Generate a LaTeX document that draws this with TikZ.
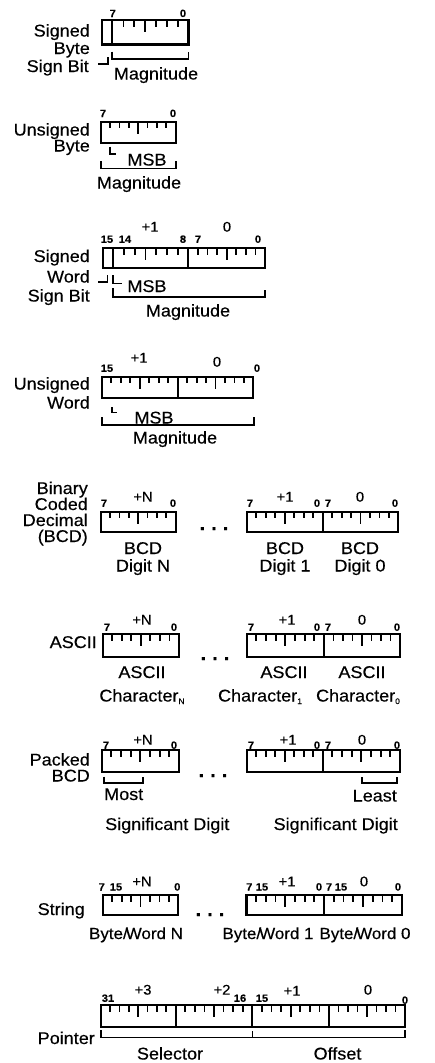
\documentclass[tikz,border=0pt]{standalone}
\usepackage{fontspec}
\setmainfont[FakeStretch=1.06,FakeBold=0.35]{Liberation Sans}

% ticks of one byte (8 bits) between x=#1 and x=#2, hanging from y=#3
\newcommand\bytescale[3]{%
  \foreach \k in {1,...,7}{%
    \pgfmathsetmacro\tx{#1+(#2-#1)*\k/8}%
    \pgfmathsetmacro\tl{\k==4 ? 12 : 6.5}%
    \draw[tick] (\tx,#3) -- (\tx,#3+\tl);%
  }}
% a subscript set a little below the baseline
\newcommand\lowsub[1]{\raisebox{-2.5pt}{\fontsize{8}{8}\selectfont #1}}
% "Byte/Word" with the slash tucked against the W
\newcommand\bw{Byte/\kern-2pt Word}

\begin{document}
\begin{tikzpicture}[x=1pt,y=-1pt,
  lbl/.style={font=\fontsize{17}{17}\selectfont, inner sep=0pt, anchor=base},
  rlbl/.style={lbl, anchor=base east},
  bwlbl/.style={font=\fontsize{16}{16}\selectfont, inner sep=0pt, anchor=base},
  bitno/.style={font=\fontsize{10.5}{11}\selectfont\bfseries, inner sep=0pt, anchor=base, yshift=-0.5pt},
  byteno/.style={font=\fontsize{14}{14}\selectfont, inner sep=0pt, anchor=base},
  dots/.style={font=\fontsize{19}{19}\selectfont\bfseries, inner sep=0pt, anchor=base},
  field/.style={line width=2.2pt},
  tick/.style={line width=1.8pt},
  brk/.style={line width=1.6pt},
]
\useasboundingbox (0,0) rectangle (434,1063);

% ---------------- Signed Byte ----------------
\node[rlbl] (sb1) at (90,36.5) {Signed};
\node[rlbl] (sb2) at (90,54) {Byte};
\node[rlbl] (sb3) at (89,72) {Sign Bit};
\node[bitno] (sbh) at (112.7,16.5) {7};
\node[bitno] (sbl) at (183,16.5) {0};
\bytescale{101.7}{188.5}{20}
\draw[field] (101.7,20) rectangle (188.5,44.5);
\draw[field] (111.7,20) -- (111.7,44.5);
\draw[brk] (98,64) -- (108,64) -- (108,56.5);
\draw[brk] (111.7,51.5) -- (111.7,59) -- (188.5,59) -- (188.5,51.5);
\node[lbl] (sbm) at (156,79.5) {Magnitude};

% ---------------- Unsigned Byte ----------------
\node[rlbl] (ub1) at (90,135.5) {Unsigned};
\node[rlbl] (ub2) at (90,151.5) {Byte};
\node[bitno] (ubh) at (103,116.5) {7};
\node[bitno] (ubl) at (173,116.5) {0};
\bytescale{100.7}{175.7}{121.7}
\draw[field] (100.7,121.7) rectangle (175.7,143.3);
\draw[brk] (110,146.5) -- (110,154) -- (116,154);
\node[lbl] (ubmsb) at (147,165.5) {MSB};
\draw[brk] (100.7,161) -- (100.7,168.3) -- (175.7,168.3) -- (175.7,161);
\node[lbl] (ubm) at (139,188.5) {Magnitude};

% ---------------- Signed Word ----------------
\node[byteno] (swb1) at (150,231.6) {+1};
\node[byteno] (swb0) at (227,231.6) {0};
\node[bitno] (sw15) at (107,242.3) {15};
\node[bitno] (sw14) at (125,242.3) {14};
\node[bitno] (sw8) at (183,242.3) {8};
\node[bitno] (sw7) at (198,242.3) {7};
\node[bitno] (sw0) at (258,242.3) {0};
\bytescale{102.7}{188.3}{248}
\bytescale{188.3}{265}{248}
\draw[field] (102.7,248) rectangle (265,268.3);
\draw[field] (112.7,248) -- (112.7,268.3);
\draw[field] (188.3,248) -- (188.3,268.3);
\node[rlbl] (sw1) at (90,262) {Signed};
\node[rlbl] (sw2) at (90,282.5) {Word};
\node[rlbl] (sw3) at (90,301.5) {Sign Bit};
\draw[brk] (98.3,281.7) -- (107.5,281.7) -- (107.5,275);
\draw[brk] (112.7,275) -- (112.7,283.3) -- (121.7,283.3);
\node[lbl] (swmsb) at (147,292) {MSB};
\draw[brk] (112.7,288) -- (112.7,296.7) -- (265,296.7) -- (265,290);
\node[lbl] (swm) at (188,316.5) {Magnitude};

% ---------------- Unsigned Word ----------------
\node[bitno] (uw15) at (107,371.3) {15};
\node[byteno] (uwb1) at (139,362.6) {+1};
\node[byteno] (uwb0) at (217,366.6) {0};
\node[bitno] (uw0) at (257,371.3) {0};
\bytescale{101.7}{177.7}{376.7}
\bytescale{177.7}{253.3}{376.7}
\draw[field] (101.7,376.7) rectangle (253.3,398.3);
\draw[field] (177.7,376.7) -- (177.7,398.3);
\node[rlbl] (uw1) at (90,389.5) {Unsigned};
\node[rlbl] (uw2) at (90,408.5) {Word};
\draw[brk] (111.7,407) -- (111.7,412.3) -- (117.3,412.3);
\node[lbl] (uwmsb) at (154,423.5) {MSB};
\draw[brk] (101.7,417) -- (101.7,425) -- (254,425) -- (254,417);
\node[lbl] (uwm) at (175,443.5) {Magnitude};

% ---------------- Binary Coded Decimal ----------------
\node[rlbl] (bcd1) at (88,494) {Binary};
\node[rlbl] (bcd2) at (88,510) {Coded};
\node[rlbl] (bcd3) at (88,526) {Decimal};
\node[rlbl] (bcd4) at (88,542) {(BCD)};
\node[bitno] (bcdNh) at (104,506.3) {7};
\node[byteno] (bcdN) at (143,501.6) {+N};
\node[bitno] (bcdNl) at (173,506.3) {0};
\bytescale{100.7}{175.7}{511.7}
\draw[field] (100.7,511.7) rectangle (175.7,531.7);
\node[dots] (bcddots) at (214,530) {.\hspace{6pt}.\hspace{6pt}.};
\node[bitno] (bcd1h) at (250,506.3) {7};
\node[byteno] (bcd1n) at (285,501.6) {+1};
\node[bitno] (bcd1l) at (317,506.3) {0};
\node[bitno] (bcd0h) at (328,506.3) {7};
\node[byteno] (bcd0n) at (360,501.6) {0};
\node[bitno] (bcd0l) at (395,506.3) {0};
\bytescale{246.7}{322.7}{511.7}
\bytescale{322.7}{398.3}{511.7}
\draw[field] (246.7,511.7) rectangle (398.3,531.7);
\draw[field] (322.7,511.7) -- (322.7,531.7);
\node[lbl] (bcdNa) at (143,554) {BCD};
\node[lbl] (bcdNb) at (143,571.5) {Digit N};
\node[lbl] (bcd1a) at (285,554) {BCD};
\node[lbl] (bcd1b) at (285,571.5) {Digit 1};
\node[lbl] (bcd0a) at (360,554) {BCD};
\node[lbl] (bcd0b) at (360,571.5) {Digit 0};

% ---------------- ASCII ----------------
\node[rlbl] (as) at (97,648) {ASCII};
\node[bitno] (asNh) at (107,630.3) {7};
\node[byteno] (asN) at (142,624.6) {+N};
\node[bitno] (asNl) at (174,630.3) {0};
\bytescale{102.7}{179}{634}
\draw[field] (102.7,634) rectangle (179,657);
\node[dots] (asdots) at (215,660) {.\hspace{6pt}.\hspace{6pt}.};
\node[bitno] (as1h) at (251,630.3) {7};
\node[byteno] (as1n) at (287,624.6) {+1};
\node[bitno] (as1l) at (317,630.3) {0};
\node[bitno] (as0h) at (328,630.3) {7};
\node[byteno] (as0n) at (362,624.6) {0};
\node[bitno] (as0l) at (397,630.3) {0};
\bytescale{246.7}{324}{634}
\bytescale{324}{400}{634}
\draw[field] (246.7,634) rectangle (400,657);
\draw[field] (324,634) -- (324,657);
\node[lbl] (asNa) at (142,678) {ASCII};
\node[lbl] (asNb) at (142,701.5) {Character\lowsub{N}};
\node[lbl] (as1a) at (284,678) {ASCII};
\node[lbl] (as1b) at (260,701.5) {Character\lowsub{1}};
\node[lbl] (as0a) at (362,678) {ASCII};
\node[lbl] (as0b) at (358,701.5) {Character\lowsub{0}};

% ---------------- Packed BCD ----------------
\node[rlbl] (pb1) at (90,765.5) {Packed};
\node[rlbl] (pb2) at (90,781.5) {BCD};
\node[bitno] (pbNh) at (106,748.3) {7};
\node[byteno] (pbN) at (143,744.6) {+N};
\node[bitno] (pbNl) at (174,748.3) {0};
\bytescale{101.7}{179}{750}
\draw[field] (101.7,750) rectangle (179,771.7);
\node[dots] (pbdots) at (213,777) {.\hspace{6pt}.\hspace{6pt}.};
\node[bitno] (pb1h) at (251,748.3) {7};
\node[byteno] (pb1n) at (288,744.6) {+1};
\node[bitno] (pb1l) at (317,748.3) {0};
\node[bitno] (pb0h) at (328,748.3) {7};
\node[byteno] (pb0n) at (362,744.6) {0};
\node[bitno] (pb0l) at (397,748.3) {0};
\bytescale{246.7}{322.7}{750}
\bytescale{322.7}{400}{750}
\draw[field] (246.7,750) rectangle (400,771.7);
\draw[field] (322.7,750) -- (322.7,771.7);
\draw[brk] (104,776.7) -- (104,782.7) -- (142.7,782.7) -- (142.7,776.7);
\draw[brk] (361.7,777) -- (361.7,782.7) -- (396.7,782.7) -- (396.7,777);
\node[lbl, anchor=base west] (pbmost) at (104,800) {Most};
\node[lbl, anchor=base west] (pbmsd) at (105,830) {Significant Digit};
\node[lbl, anchor=base east] (pbleast) at (397,801.5) {Least};
\node[lbl, anchor=base east] (pblsd) at (398,830) {Significant Digit};

% ---------------- String ----------------
\node[rlbl] (st) at (85,915) {String};
\node[bitno] (stNh) at (101.7,890) {7};
\node[bitno] (stNw) at (116,890) {15};
\node[byteno] (stN) at (142,886.3) {+N};
\node[bitno] (stNl) at (177.3,890) {0};
\bytescale{102.7}{178.3}{895}
\draw[field] (102.7,895) rectangle (178.3,915);
\node[dots] (stdots) at (210,916) {.\hspace{6pt}.\hspace{6pt}.};
\node[bitno] (st1h) at (249.3,890) {7};
\node[bitno] (st1w) at (262,890) {15};
\node[byteno] (st1n) at (287,886.3) {+1};
\node[bitno] (st1l) at (319,890) {0};
\node[bitno] (st0h) at (329,890) {7};
\node[bitno] (st0w) at (341,890) {15};
\node[byteno] (st0n) at (364,886.3) {0};
\node[bitno] (st0l) at (398,890) {0};
\bytescale{246.5}{324}{895}
\bytescale{324}{402}{895}
\draw[field] (246.5,895) rectangle (402,915);
\draw[field] (324,895) -- (324,915);
\node[bwlbl] (stNb) at (136,939) {\bw{} N};
\node[bwlbl] (st1b) at (268,939) {\bw{} 1};
\node[bwlbl] (st0b) at (365,939) {\bw{} 0};

% ---------------- Pointer ----------------
\node[bitno] (pt31) at (108,1001.3) {31};
\node[byteno] (pt3) at (143,994.6) {+3};
\node[byteno] (pt2) at (222,994.6) {+2};
\node[bitno] (pt16) at (240,1001.3) {16};
\node[bitno] (pt15) at (262,1001.3) {15};
\node[byteno] (pt1) at (292,995.6) {+1};
\node[byteno] (pt0) at (368,994.6) {0};
\node[bitno] (pt00) at (405,1003.3) {0};
\bytescale{100.7}{175.7}{1005}
\bytescale{175.7}{252.3}{1005}
\bytescale{252.3}{329}{1005}
\bytescale{329}{405}{1005}
\draw[field] (100.7,1005) rectangle (405,1026.7);
\foreach \dx in {175.7,252.3,329}
  \draw[field] (\dx,1005) -- (\dx,1026.7);
\draw[brk] (100.7,1030) -- (100.7,1037.5) -- (405,1037.5) -- (405,1030);
\draw[brk] (252.3,1031) -- (252.3,1037.5);
\node[rlbl] (pt) at (95,1044) {Pointer};
\node[lbl] (ptsel) at (170,1059.5) {Selector};
\node[lbl] (ptoff) at (337.5,1059.5) {Offset};
\end{tikzpicture}
\end{document}
